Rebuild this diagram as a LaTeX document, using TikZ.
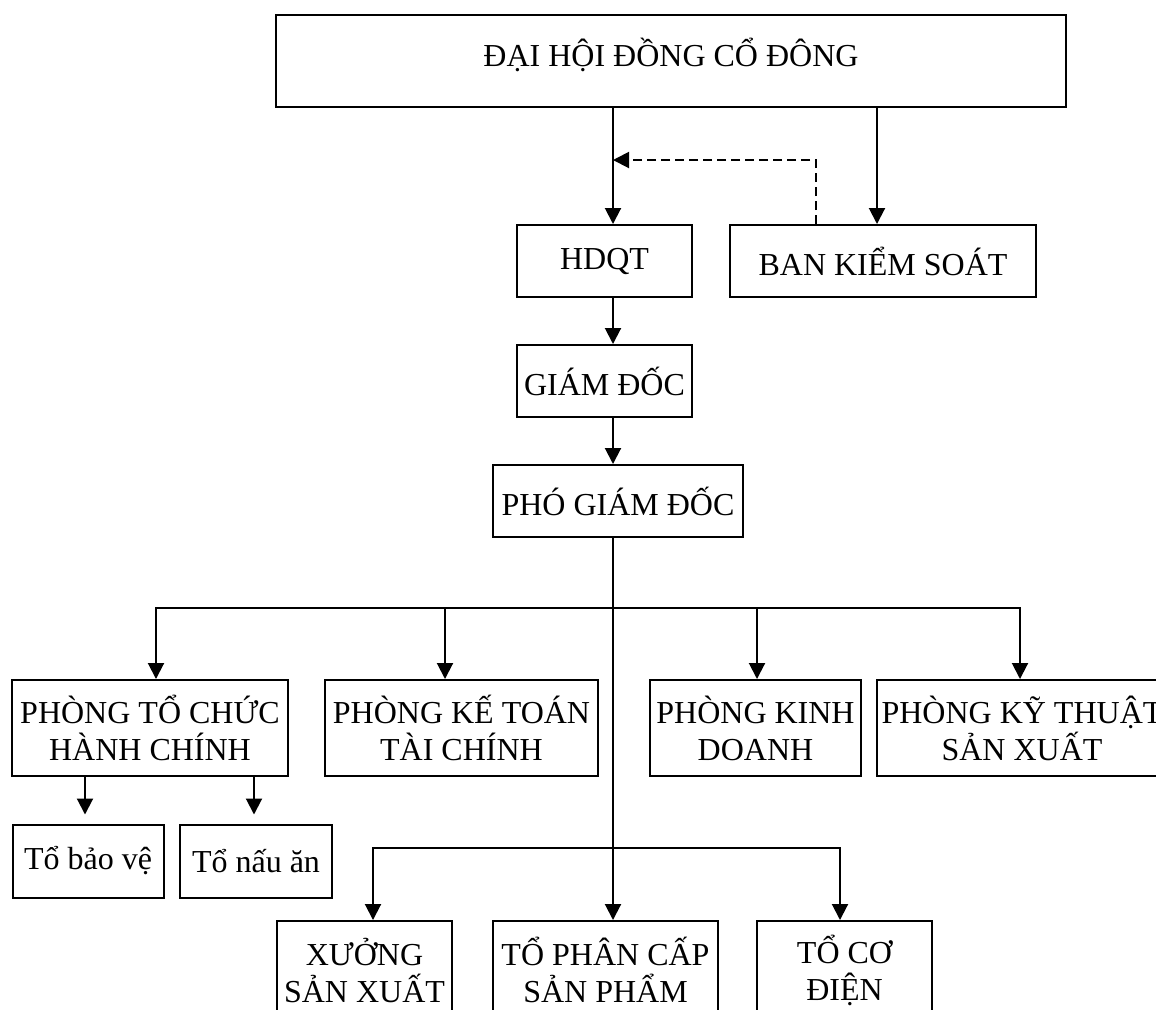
\documentclass[tikz,border=0pt]{standalone}
\usepackage{fontspec}
\setmainfont{Liberation Serif}
\usetikzlibrary{arrows.meta}

\begin{document}
\begin{tikzpicture}[x=0.5pt, y=-0.5pt,
  box/.style={draw, line width=1pt, rectangle, inner sep=0pt, align=center,
    font=\fontsize{16}{18.5}\selectfont},
  arr/.style={line width=1pt, -{Triangle[length=8pt,width=8pt]}}]
\useasboundingbox (0,0) rectangle (1156,1009);

% Top level
\node[box, minimum width=395pt, minimum height=46pt, text height=14pt, text depth=9pt] (dhcd) at (671,61) {ĐẠI HỘI ĐỒNG CỔ ĐÔNG};
\node[box, minimum width=87.5pt, minimum height=36pt] (hdqt) at (604.5,261) {HDQT};
\node[box, minimum width=153pt, minimum height=36pt] (bks) at (883,261) {BAN KIỂM SOÁT};
\node[box, minimum width=87.5pt, minimum height=36pt] (gd) at (604.5,381) {GIÁM ĐỐC};
\node[box, minimum width=125pt, minimum height=36pt] (pgd) at (618,501) {PHÓ GIÁM ĐỐC};

% Phong ban
\node[box, minimum width=138pt, minimum height=48pt] (ptc) at (150,728) {PHÒNG TỔ CHỨC\\HÀNH CHÍNH};
\node[box, minimum width=136.5pt, minimum height=48pt] (pkt) at (461.5,728) {PHÒNG KẾ TOÁN\\TÀI CHÍNH};
\node[box, minimum width=105.5pt, minimum height=48pt] (pkd) at (755.5,728) {PHÒNG KINH\\DOANH};
\node[box, minimum width=145pt, minimum height=48pt] (pkts) at (1022,728) {PHÒNG KỸ THUẬT\\SẢN XUẤT};

% To truc thuoc
\node[box, minimum width=75.5pt, minimum height=36.5pt] (tbv) at (88,861) {Tổ bảo vệ};
\node[box, minimum width=76pt, minimum height=36.5pt] (tna) at (256,861) {Tổ nấu ăn};
\node[box, minimum width=87.5pt, minimum height=49pt] (xsx) at (364.5,970) {XƯỞNG\\SẢN XUẤT};
\node[box, minimum width=112.5pt, minimum height=49pt] (tpc) at (605.5,970) {TỔ PHÂN CẤP\\SẢN PHẨM};
\node[box, minimum width=87.5pt, minimum height=49pt] (tcd) at (844.5,970) {TỔ CƠ\\ĐIỆN};

% Main axis and buses
\coordinate (axis) at (613,0);
\coordinate (ctrl) at (613,160);
\coordinate (bus1) at (613,608);
\coordinate (bus2) at (613,848);

% Upper arrows
\draw[arr] (dhcd.south -| axis) -- (hdqt.north -| axis);
\draw[arr] (dhcd.south -| bks.north) ++(-6,0) -- ([xshift=-3pt]bks.north);
\draw[arr, dashed, dash pattern=on 4.5pt off 2.5pt] ([xshift=-33.5pt]bks.north) |- (ctrl);
\draw[arr] (hdqt.south -| axis) -- (gd.north -| axis);
\draw[arr] (gd.south -| axis) -- (pgd.north -| axis);

% Trunk
\draw[arr] (pgd.south -| axis) -- (tpc.north -| axis);

% Branches to phong ban
\draw[arr] (bus1) -| ([xshift=3pt]ptc.north);
\draw[arr] (bus1) -| ([xshift=-8.25pt]pkt.north);
\draw[arr] (bus1) -| ([xshift=0.75pt]pkd.north);
\draw[arr] (bus1) -| ([xshift=-1pt]pkts.north);

% Under phong to chuc
\draw[arr, shorten >=4.5pt] (ptc.south -| tbv.north) ++(-3,0) -- ([xshift=-1.5pt]tbv.north);
\draw[arr, shorten >=4.5pt] (ptc.south -| tna.north) ++(-2,0) -- ([xshift=-1pt]tna.north);

% Branches to xuong
\draw[arr] (bus2) -| ([xshift=4.25pt]xsx.north);
\draw[arr] (bus2) -| ([xshift=-2.25pt]tcd.north);

\end{tikzpicture}
\end{document}
